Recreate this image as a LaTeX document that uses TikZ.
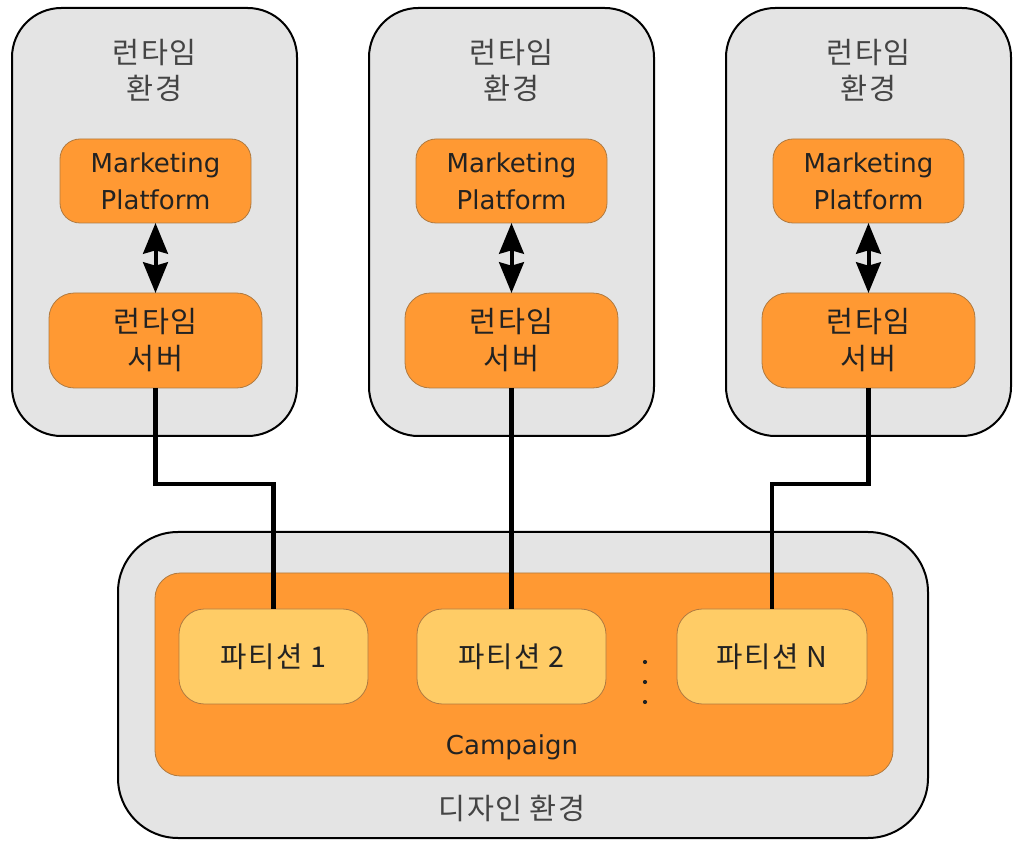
\documentclass[tikz,border=0pt]{standalone}
\usepackage{fontspec}
\setmainfont{DejaVu Sans}
\newfontfamily\kr{Noto Sans CJK KR}
\usetikzlibrary{arrows.meta}
\definecolor{envgray}{HTML}{E4E4E4}
\definecolor{orng}{HTML}{FF9933}
\definecolor{lightorng}{HTML}{FFCC66}
\definecolor{orngedge}{HTML}{B07A40}
\definecolor{txt}{HTML}{222222}
\definecolor{titletxt}{HTML}{444444}
\tikzset{
  span/.style n args={4}{at={({(#1+#3)/2},{(#2+#4)/2})}, minimum width={(#3-#1)*0.75pt}, minimum height={(#4-#2)*0.75pt}, inner sep=0pt, outer sep=0pt},
  envbox/.style={draw=black, line width=1.5pt, fill=envgray, rounded corners=37pt},
  orbox/.style={draw=orngedge, line width=0.6pt, fill=orng, align=center, text=txt},
  mpbox/.style={orbox, rounded corners=15pt, font=\fontsize{19.5}{27.75}\selectfont},
  srvbox/.style={orbox, rounded corners=19pt, font=\kr\addfontfeature{LetterSpace=4}\fontsize{22}{27.75}\selectfont},
  partbox/.style={draw=orngedge, line width=0.6pt, fill=lightorng, rounded corners=19pt, text=txt, font=\kr\addfontfeature{LetterSpace=6}\fontsize{21.5}{24}\selectfont},
  envtitle/.style={align=center, text=titletxt, font=\kr\addfontfeature{LetterSpace=4}\fontsize{22}{27}\selectfont, inner sep=0pt},
  link/.style={line width=3.4pt, black},
  biarrow/.style={line width=3pt, black, {Stealth[length=23pt,width=18.5pt,inset=2.5pt]}-{Stealth[length=23pt,width=18.5pt,inset=2.5pt]}},
}
\begin{document}
\begin{tikzpicture}[x=0.75pt,y=-0.75pt]
\useasboundingbox (0,0) rectangle (1015,841);
% top environments
\node[envbox, span={12}{8}{297}{436}] (env1) {};
\node[envbox, span={369}{8}{654}{436}] (env2) {};
\node[envbox, span={726}{8}{1011}{436}] (env3) {};
\node[envtitle] (t1) at (154.5,70) {런타임\\환경};
\node[envtitle] (t2) at (511.5,70) {런타임\\환경};
\node[envtitle] (t3) at (868.5,70) {런타임\\환경};
% marketing platform
\node[mpbox, span={60}{139}{251}{223}] (mp1) {Marketing\\Platform};
\node[mpbox, span={416}{139}{607}{223}] (mp2) {Marketing\\Platform};
\node[mpbox, span={773}{139}{964}{223}] (mp3) {Marketing\\Platform};
% runtime servers
\node[srvbox, span={49}{293}{262}{388}] (s1) {런타임\\서버};
\node[srvbox, span={405}{293}{618}{388}] (s2) {런타임\\서버};
\node[srvbox, span={762}{293}{975}{388}] (s3) {런타임\\서버};
\draw[biarrow] (mp1.south) -- (s1.north);
\draw[biarrow] (mp2.south) -- (s2.north);
\draw[biarrow] (mp3.south) -- (s3.north);
% design environment
\node[envbox, rounded corners=45pt, span={118}{532}{928}{838}] (design) {};
\node[orbox, rounded corners=19pt, span={155}{573}{893}{776}] (camp) {};
\node[partbox, span={179}{609}{368}{704}] (p1) {파티션 1};
\node[partbox, span={417}{609}{606}{704}] (p2) {파티션 2};
\node[partbox, span={677}{609}{867}{704}] (pn) {파티션 N};
\fill[txt] (645,662) circle (2.1) (645,682) circle (2.1) (645,702) circle (2.1);
\node[text=txt, font=\fontsize{19.5}{24}\selectfont, inner sep=0pt] (campl) at (512,747) {Campaign};
\node[text=titletxt, font=\kr\addfontfeature{LetterSpace=4}\fontsize{22}{24}\selectfont, inner sep=0pt] (designl) at (512,808) {디자인 환경};
% links
\draw[link] (s1.south) -- ++(0,96) -| (p1.north);
\draw[link] (s2.south) -- (p2.north);
\draw[link] (s3.south) -- ++(0,96) -| (pn.north);
\end{tikzpicture}
\end{document}
